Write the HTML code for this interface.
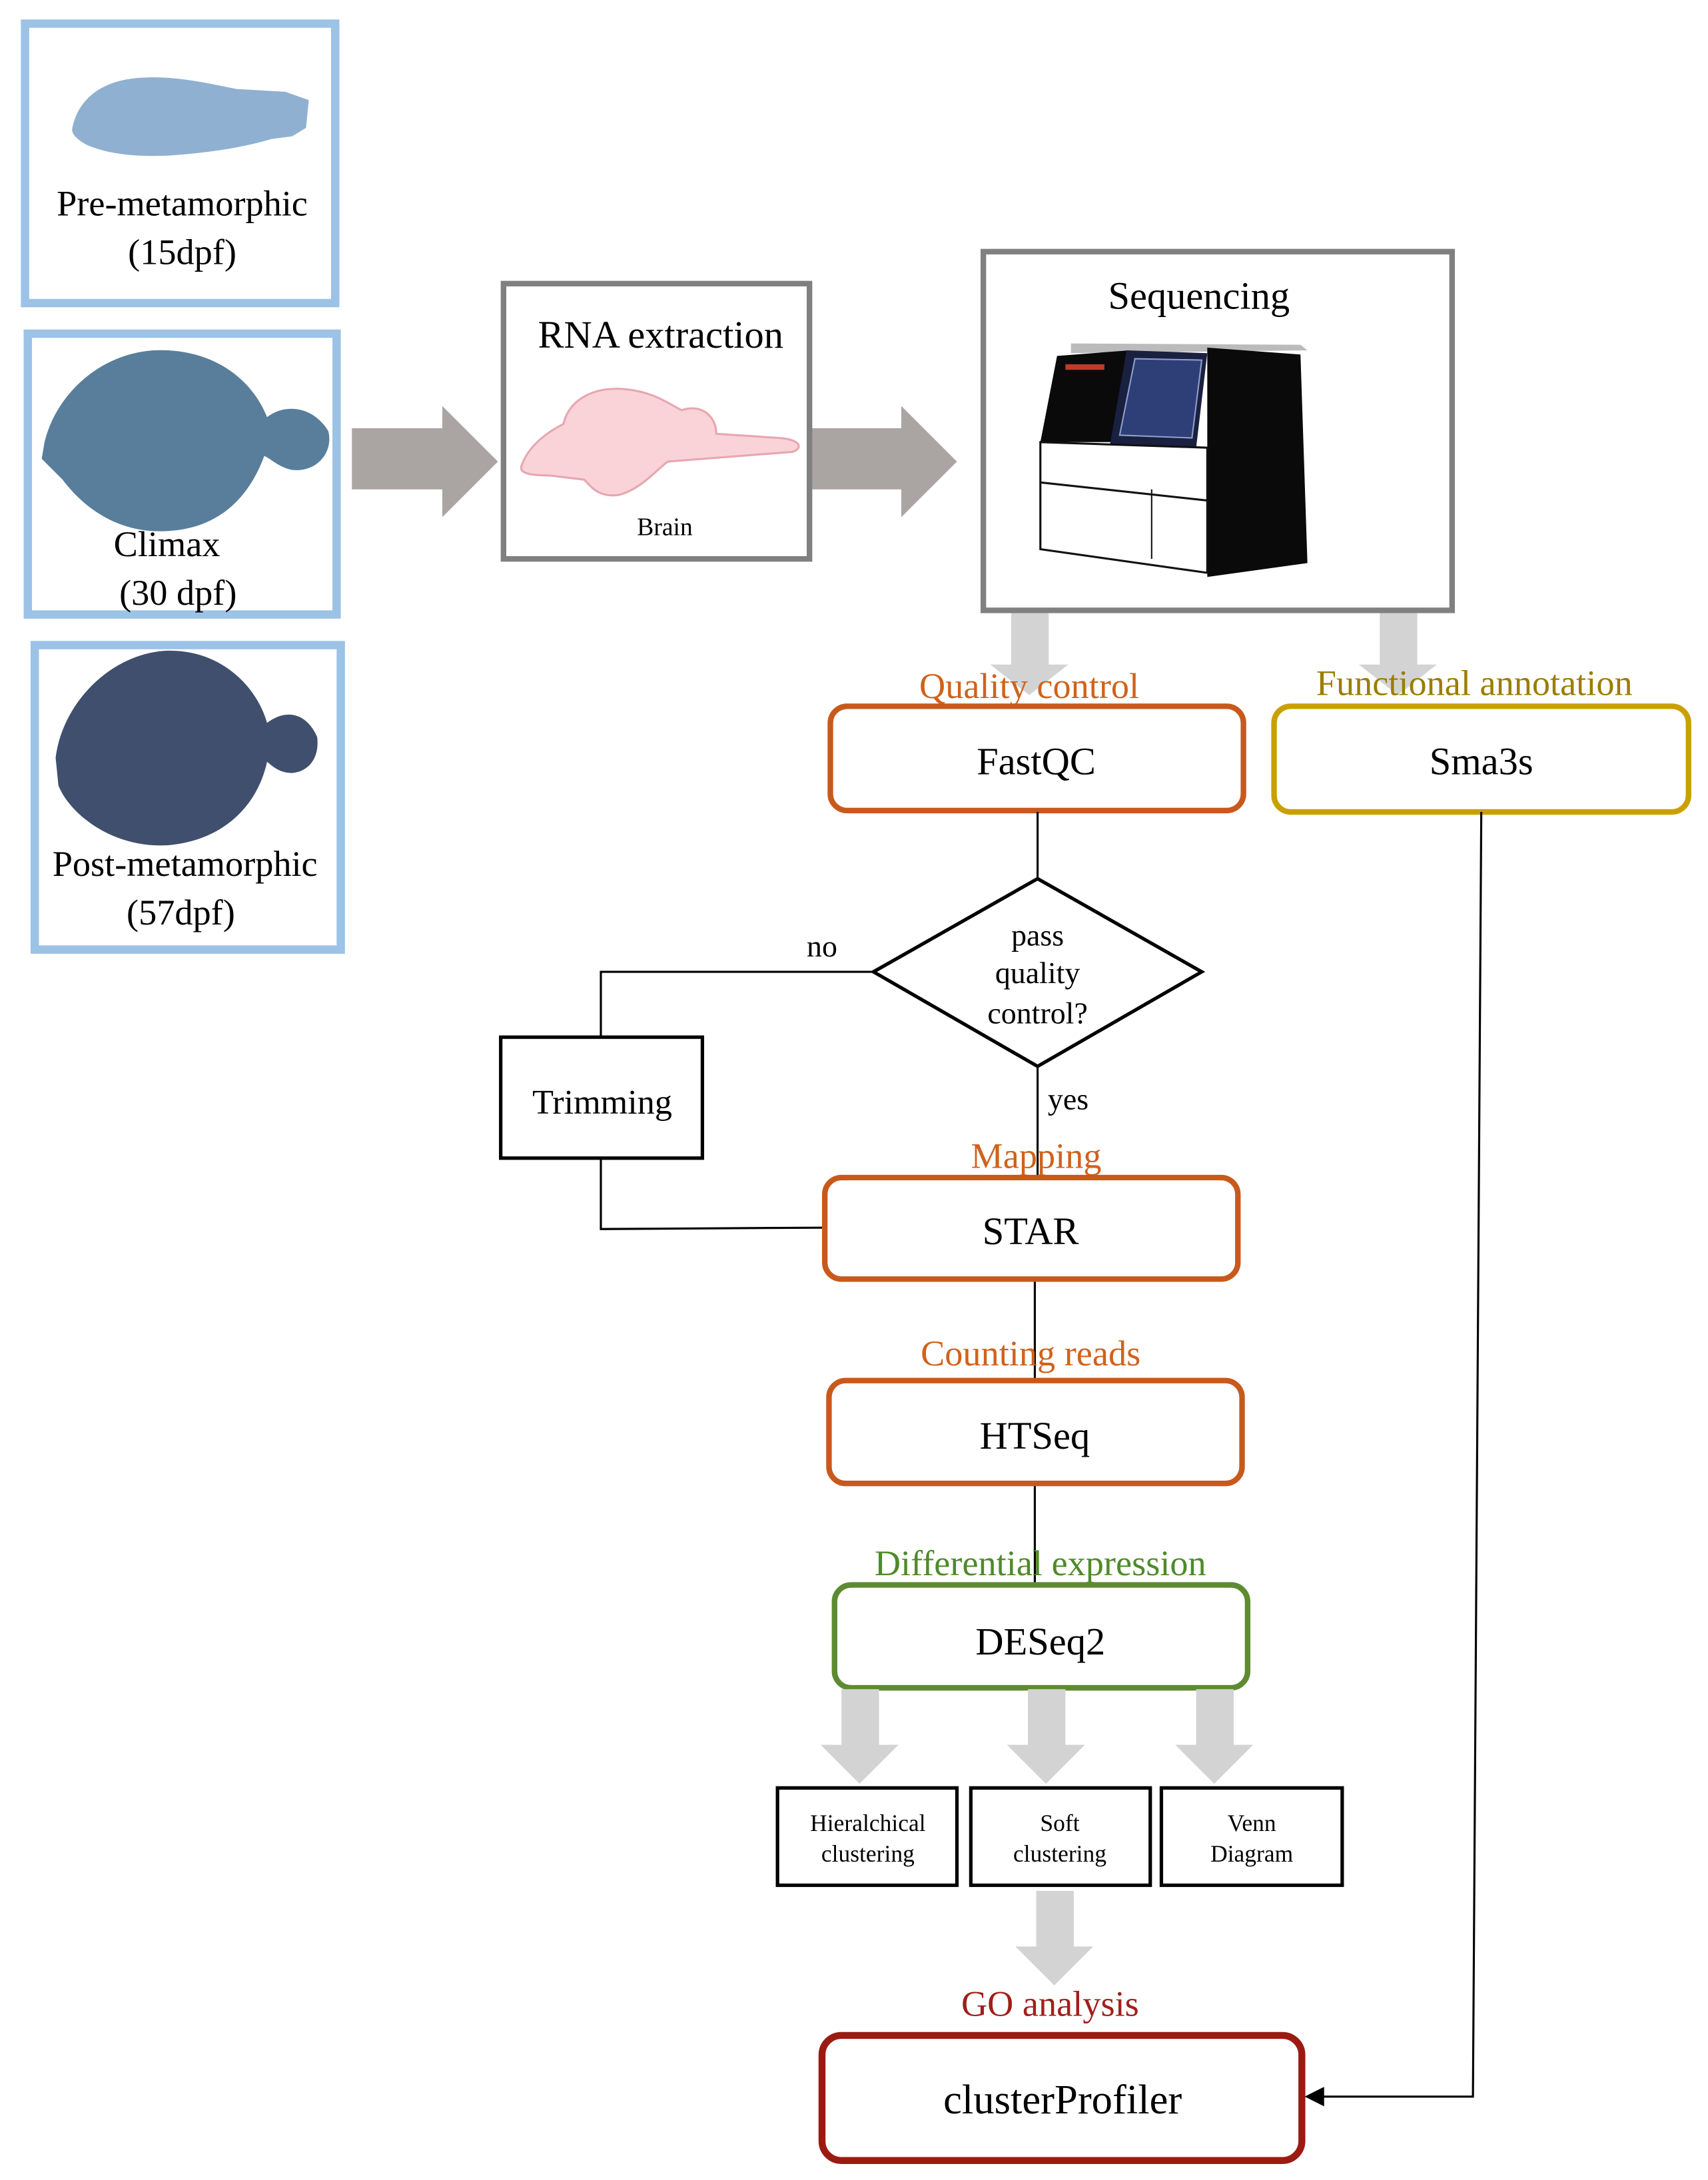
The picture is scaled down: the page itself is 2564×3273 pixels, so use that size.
<!DOCTYPE html>
<html><head><meta charset="utf-8"><style>
html,body{margin:0;padding:0;background:#fff}
svg{display:block}
text{font-family:"Liberation Serif",serif}
</style></head><body>
<svg width="2564" height="3273" viewBox="0 0 1228 1568" preserveAspectRatio="none" xmlns="http://www.w3.org/2000/svg">
<rect width="1228" height="1568" fill="#fff"/>
<!-- stage boxes -->
<rect x="18" y="17" width="223" height="201" fill="#fff" stroke="#9cc3e6" stroke-width="6"/>
<path d="M52,92 C56,72 72,58 100,56 C125,54 150,60 170,64 L205,66 L222,72 L220,92 L210,98 L195,100 C175,106 150,110 120,112 C95,113 75,110 62,104 C55,100 51,96 52,92 Z" fill="#8fb0d0"/>
<text x="131" y="155" font-size="26" text-anchor="middle">Pre-metamorphic</text>
<text x="131" y="190" font-size="26" text-anchor="middle">(15dpf)</text>

<rect x="20" y="240" width="222" height="202" fill="#fff" stroke="#9cc3e6" stroke-width="6"/>
<path d="M32,318 C40,285 70,255 110,252 C150,250 180,270 192,300 C205,290 225,292 236,310 C240,325 228,340 210,338 C200,336 195,330 190,328 C180,355 160,380 120,382 C85,384 60,365 45,345 L30,330 Z" fill="#597e9b"/>
<text x="120" y="400" font-size="26" text-anchor="middle">Climax</text>
<text x="128" y="435" font-size="26" text-anchor="middle">(30 dpf)</text>

<rect x="25" y="464" width="220" height="219" fill="#fff" stroke="#9cc3e6" stroke-width="6"/>
<path d="M40,545 C45,505 80,470 120,468 C160,467 185,495 192,520 C205,510 220,512 228,530 C230,545 222,555 210,556 C200,556 195,550 192,548 C185,580 160,605 120,608 C80,610 50,585 42,565 Z" fill="#414f6e"/>
<text x="133" y="630" font-size="26" text-anchor="middle">Post-metamorphic</text>
<text x="130" y="665" font-size="26" text-anchor="middle">(57dpf)</text>

<!-- big arrows -->
<path d="M253,308 L318,308 L318,292 L358,332 L318,372 L318,352 L253,352 Z" fill="#aaa5a3"/>
<path d="M583,308 L648,308 L648,292 L688,332 L648,372 L648,352 L583,352 Z" fill="#aaa5a3"/>

<!-- RNA extraction -->
<rect x="362" y="204" width="220" height="198" fill="#fff" stroke="#808080" stroke-width="4"/>
<text x="475" y="250" font-size="28" text-anchor="middle">RNA extraction</text>
<path d="M375,335 C380,320 395,310 405,305 C410,285 430,278 450,280 C470,282 480,290 490,295 C505,290 515,300 515,312 L560,315 C575,316 578,322 570,325 L480,332 C470,340 460,352 445,356 C430,358 425,350 420,345 L395,342 C380,342 373,340 375,335 Z" fill="#f9d3d8" stroke="#e7a7b0" stroke-width="1.5"/>
<text x="478" y="385" font-size="18" text-anchor="middle" font-family="Liberation Sans, sans-serif">Brain</text>

<!-- Sequencing -->
<rect x="707" y="181" width="337" height="258" fill="#fff" stroke="#808080" stroke-width="4"/>
<text x="862" y="222" font-size="28" text-anchor="middle">Sequencing</text>
<path d="M770,247 L935,248 L940,252 L770,254 Z" fill="#bbb"/>
<path d="M760,256 L812,252 L808,318 L748,318 Z" fill="#0a0a0a"/>
<rect x="766" y="262" width="28" height="4" fill="#c0392b"/>
<path d="M810,252 L868,254 L860,322 L798,320 Z" fill="#1a2040"/>
<path d="M816,258 L864,259 L857,315 L805,313 Z" fill="#2e3f78" stroke="#8fa0c8" stroke-width="1"/>
<path d="M868,250 L935,255 L940,405 L868,415 Z" fill="#0a0a0a"/>
<path d="M748,318 L868,322 L868,412 L748,395 Z" fill="#fff" stroke="#111" stroke-width="1.5"/>
<line x1="748" y1="347" x2="868" y2="360" stroke="#111" stroke-width="1.5"/>
<line x1="828" y1="352" x2="828" y2="402" stroke="#111" stroke-width="1"/>

<!-- down arrows -->
<path d="M727,441 L754,441 L754,478 L768,478 L740,500 L712,478 L727,478 Z" fill="#d3d3d3"/>
<path d="M992,441 L1019,441 L1019,478 L1033,478 L1005,500 L977,478 L992,478 Z" fill="#d3d3d3"/>

<g font-size="26" text-anchor="middle">
<text x="740" y="502" fill="#d0621c">Quality control</text>
<text x="1060" y="500" fill="#9a7d00">Functional annotation</text>
</g>
<rect x="597" y="508" width="297" height="75" rx="12" fill="none" stroke="#c8591c" stroke-width="4"/>
<text x="745" y="557" font-size="28" text-anchor="middle">FastQC</text>
<rect x="916" y="508" width="298" height="76" rx="12" fill="none" stroke="#c9a000" stroke-width="4"/>
<text x="1065" y="557" font-size="28" text-anchor="middle">Sma3s</text>

<g stroke="#000" stroke-width="1.5" fill="none">
<line x1="746" y1="584" x2="746" y2="632"/>
<path d="M746,632 L864,699 L746,767 L628,699 Z" stroke-width="2.5"/>
<path d="M628,699 L432,699 L432,746"/>
<path d="M432,833 L432,884 L593,883"/>
<line x1="746" y1="767" x2="746" y2="848"/>
<line x1="744" y1="920" x2="744" y2="993"/>
<line x1="744" y1="1067" x2="744" y2="1140"/>
<path d="M1065,584 L1059,1508 L950,1508"/>
</g>
<path d="M938,1508 L952,1501 L952,1515 Z" fill="#000"/>
<g font-size="22" text-anchor="middle">
<text x="746" y="680">pass</text>
<text x="746" y="707">quality</text>
<text x="746" y="736">control?</text>
<text x="591" y="688">no</text>
<text x="768" y="798">yes</text>
</g>
<rect x="360" y="746" width="145" height="87" fill="#fff" stroke="#000" stroke-width="2.5"/>
<text x="433" y="801" font-size="25" text-anchor="middle">Trimming</text>

<text x="745" y="840" font-size="26" text-anchor="middle" fill="#d0621c">Mapping</text>
<rect x="593" y="847" width="297" height="73" rx="12" fill="none" stroke="#c8591c" stroke-width="4"/>
<text x="741" y="895" font-size="28" text-anchor="middle">STAR</text>

<text x="741" y="982" font-size="26" text-anchor="middle" fill="#d0621c">Counting reads</text>
<rect x="596" y="993" width="297" height="74" rx="12" fill="none" stroke="#c8591c" stroke-width="4"/>
<text x="744" y="1042" font-size="28" text-anchor="middle">HTSeq</text>

<text x="748" y="1133" font-size="26" text-anchor="middle" fill="#4f8a2a">Differential expression</text>
<rect x="600" y="1140" width="297" height="74" rx="12" fill="none" stroke="#5e8b32" stroke-width="4"/>
<text x="748" y="1190" font-size="28" text-anchor="middle">DESeq2</text>

<g fill="#d3d3d3">
<path d="M605,1215 L632,1215 L632,1255 L646,1255 L618,1283 L590,1255 L605,1255 Z"/>
<path d="M739,1215 L766,1215 L766,1255 L780,1255 L752,1283 L724,1255 L739,1255 Z"/>
<path d="M860,1215 L887,1215 L887,1255 L901,1255 L873,1283 L845,1255 L860,1255 Z"/>
<path d="M745,1360 L772,1360 L772,1400 L786,1400 L758,1428 L730,1400 L745,1400 Z"/>
</g>
<g fill="#fff" stroke="#000" stroke-width="2.5">
<rect x="559" y="1286" width="129" height="70"/>
<rect x="698" y="1286" width="129" height="70"/>
<rect x="835" y="1286" width="130" height="70"/>
</g>
<g font-size="17" text-anchor="middle">
<text x="624" y="1317">Hieralchical</text><text x="624" y="1339">clustering</text>
<text x="762" y="1317">Soft</text><text x="762" y="1339">clustering</text>
<text x="900" y="1317">Venn</text><text x="900" y="1339">Diagram</text>
</g>

<text x="755" y="1450" font-size="26" text-anchor="middle" fill="#a0201a">GO analysis</text>
<rect x="591" y="1464" width="345" height="90" rx="14" fill="none" stroke="#9b1b12" stroke-width="5"/>
<text x="764" y="1520" font-size="30" text-anchor="middle">clusterProfiler</text>
</svg>
</body></html>
